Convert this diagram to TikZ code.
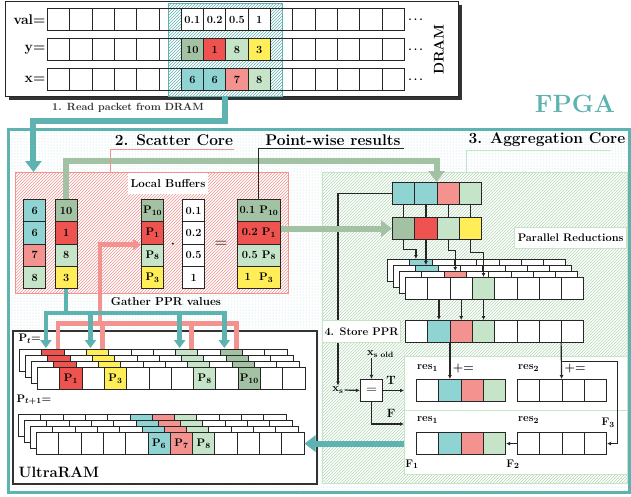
\documentclass[tikz,border=0pt]{standalone}
\usepackage{amsmath}
\usepackage{tikz}
\usetikzlibrary{arrows.meta,shadows,patterns,positioning,calc}

\definecolor{tealc}{RGB}{94,178,176}
\definecolor{cyanc}{RGB}{143,211,211}
\definecolor{redc}{RGB}{239,83,80}
\definecolor{pinkc}{RGB}{244,146,143}
\definecolor{lgreen}{RGB}{198,228,200}
\definecolor{hgreen}{RGB}{180,214,182}
\definecolor{dgreen}{RGB}{163,193,163}
\definecolor{yellowc}{RGB}{255,238,88}

\tikzset{
  cell/.style={draw=black!85, line width=0.9pt, minimum width=22.3pt, minimum height=22.3pt, inner sep=0pt, anchor=north west},
  region/.style={anchor=north west, inner sep=0pt},
  tbar/.style={draw=tealc, line width=6pt, -{Triangle[length=11pt,width=16pt]}},
  gbar/.style={draw=dgreen, line width=6pt, -{Triangle[length=11pt,width=16pt]}},
  tmid/.style={draw=tealc, line width=4.5pt},
  pmid/.style={draw=pinkc, line width=4.5pt},
  blk/.style={draw=black!85, line width=1.2pt},
  blkarrow/.style={blk, -{Latex[length=4pt,width=4pt]}},
  headlabel/.style={font=\fontsize{15.5}{17}\selectfont\bfseries\boldmath},
  boxlabel/.style={fill=white, inner xsep=3pt, minimum height=21pt},
}

% row of cells: name, x, y (top), fill/text list
\newcommand{\cellrow}[4]{%
  \foreach \cf/\ct [count=\i from 0] in {#4}
    \node[cell, fill=\cf] (#1-\i) at ({#2+22.3*\i},#3) {\ct};}
% column of cells: [width], name, x, y (top), fill/text list
\newcommand{\cellcol}[5][22.3pt]{%
  \foreach \cf/\ct [count=\i] in {#5}
    \node[cell, fill=\cf, minimum width=#1] (#2-\i) at (#3,{#4+22.3*(\i-1)}) {\ct};}

\begin{document}
\begin{tikzpicture}[x=1pt, y=-1pt, font=\fontsize{11}{13}\selectfont\bfseries\boldmath]
    \useasboundingbox (0,0) rectangle (631,496);

    % --- DRAM ---
    \node[region, draw=black!85, line width=1pt, fill=white, minimum width=453pt, minimum height=95pt,
          drop shadow={shadow xshift=3pt, shadow yshift=-3pt, fill=black!80, opacity=1}] (dram) at (5,1) {};
    \node[region, draw=tealc, line width=0.9pt, pattern=north east lines, pattern color=tealc,
          minimum width=114pt, minimum height=93pt] (pkt) at (168,3) {};
    \foreach \rw/\y in {val/8,yy/38,xx/68}
        \foreach \i in {0,...,15}
            \node[cell] (\rw-\i) at ({47+22.3*\i},\y) {};
    \foreach \i/\ct in {6/0.1,7/0.2,8/0.5,9/1}
        \node[cell, fill=white] (valv-\i) at (val-\i.north west) {\ct};
    \foreach \i/\cf/\ct in {6/dgreen/10,7/redc/1,8/lgreen/8,9/yellowc/3}
        \node[cell, fill=\cf] (yyv-\i) at (yy-\i.north west) {\ct};
    \foreach \i/\cf/\ct in {6/cyanc/6,7/cyanc/6,8/pinkc/7,9/lgreen/8}
        \node[cell, fill=\cf] (xxv-\i) at (xx-\i.north west) {\ct};
    \foreach \rw/\ct in {val/val=,yy/y=,xx/x=}
        \node[anchor=east, inner sep=1.5pt, font=\fontsize{14}{16}\selectfont\bfseries] (lab-\rw) at (\rw-0.west) {\ct};
    \foreach \rw in {val,yy,xx}
        \node (dots-\rw) at ($(\rw-15.east)+(12,0)$) {$\cdots$};
    \node[rotate=90, font=\fontsize{14}{16}\selectfont\bfseries] (dramlab) at ($(yy-15.east)+(34,0)$) {DRAM};

    % --- FPGA ---
    \node[region, draw=tealc, line width=3pt, pattern=dots, pattern color=tealc!45,
          minimum width=621pt, minimum height=363pt] (fpga) at (7,128) {};
    \node[font=\fontsize{25}{28}\selectfont\bfseries, text=tealc] (fpgalab) at (575,104) {FPGA};
    \node[font=\fontsize{10.5}{12}\selectfont\bfseries, text=black!80] (readlab) at (128,108) {1. Read packet from DRAM};

    % --- core labels ---
    \node[headlabel] (scl) at (174,140) {2. Scatter Core};
    \node[headlabel, inner sep=3pt] (pwr) at (333,140) {Point-wise results};
    \node[headlabel] (acl) at (547,140) {3. Aggregation Core};

    % --- regions ---
    \node[region, draw=pinkc, line width=1pt, preaction={fill=white}, pattern=north east lines, pattern color=pinkc,
          minimum width=273pt, minimum height=121pt] (lb) at (15,172) {};
    \node[region, draw=lgreen, line width=1pt, preaction={fill=white}, pattern=north east lines, pattern color=hgreen,
          minimum width=305pt, minimum height=311pt] (agg) at (322,172) {};
    \node[boxlabel, anchor=north, font=\fontsize{11.5}{13}\selectfont\bfseries] (lblab) at (168,172.5) {Local Buffers};
    \node[boxlabel, draw=lgreen, line width=1pt, anchor=north east] (prlab) at (627,227) {Parallel Reductions};

    % --- local buffers ---
    \cellcol{colx}{23}{199}{cyanc/6, cyanc/6, pinkc/7, lgreen/8}
    \cellcol{coly}{54.5}{199}{dgreen/10, redc/1, lgreen/8, yellowc/3}
    \cellcol{colp}{141}{199}{dgreen/$\mathbf{P}_{10}$, redc/$\mathbf{P}_{1}$, lgreen/$\mathbf{P}_{8}$, yellowc/$\mathbf{P}_{3}$}
    \cellcol{colv}{182}{199}{white/0.1, white/0.2, white/0.5, white/1}
    \cellcol[43pt]{colr}{237}{199}{dgreen/0.1 $\mathbf{P}_{10}$, redc/0.2 $\mathbf{P}_{1}$, lgreen/0.5 $\mathbf{P}_{8}$, yellowc/1\ \ $\mathbf{P}_{3}$}
    \node[font=\fontsize{16}{16}\selectfont] (dotop) at ($(colp-2.south east)!0.5!(colv-2.south west)$) {$\cdot$};
    \node[font=\fontsize{16}{16}\selectfont] (eqop) at ($(colv-2.south east)!0.5!(colr-2.south west)$) {$=$};
    \node[font=\fontsize{11.5}{13}\selectfont\bfseries] (gatherlab) at (166,302) {Gather PPR values};

    % --- aggregation rows ---
    \cellrow{aggA}{392}{182}{cyanc/{},cyanc/{},pinkc/{},lgreen/{}}
    \cellrow{aggB}{392}{217}{dgreen/{},redc/{},lgreen/{},yellowc/{}}
    \foreach \k/\c/\cf in {0/1/cyanc,1/1/cyanc,2/2/pinkc,3/3/lgreen} {
        \foreach \i in {0,...,7}
            \node[cell, fill=white] (pr\k-\i) at ({387+6*\k+22.3*\i},{259+6*\k}) {};
        \node[cell, fill=\cf] (prc\k) at (pr\k-\c.north west) {};
    }
    \cellrow{st}{405}{320}{white/{},cyanc/{},pinkc/{},lgreen/{},white/{},white/{},white/{},white/{}}

    % --- connections in aggregation core ---
    \foreach \i in {0,...,3}
        \draw[blk] (aggA-\i.south) -- (aggB-\i.north);
    \draw[blkarrow] (aggB-0.south) -- ++(0,9) -| ($(prc0.north)+(-5,0)$);
    \draw[blkarrow] (aggB-1.south) -- (aggB-1.south |- prc1.north);
    \draw[blkarrow] (aggB-2.south) -- ++(0,10) -| (prc2.north);
    \draw[blkarrow] (aggB-3.south) -- ++(0,12) -| (prc3.north);
    \foreach \i in {1,2,3}
        \draw[blkarrow] (pr3-\i.south) -- (st-\i.north);

    % --- compare and accumulate ---
    \node[inner sep=1pt] (xs) at (338,390) {$\mathbf{x}_{\mathbf{s}}$};
    \draw[blkarrow] (aggA-0.west) -| (xs.north);
    \node[boxlabel, draw=lgreen, line width=1pt, anchor=north west, inner xsep=2pt, minimum height=22.3pt] (stlab) at (322,320) {4. Store PPR};
    \node[region, draw=lgreen, line width=1pt, fill=white, minimum width=223pt, minimum height=54pt] (tbox) at (404,356) {};
    \node[region, draw=lgreen, line width=1pt, fill=white, minimum width=223pt, minimum height=64pt] (fbox) at (404,410) {};
    \node[draw=black!85, line width=1pt, fill=white, minimum size=22.3pt, inner sep=0pt, font=\fontsize{14}{14}\selectfont] (eqb) at (371.5,390.5) {$=$};
    \node[anchor=west, inner sep=1pt] (xso) at (366,354) {$\mathbf{x}_{\text{s old}}$};
    \draw[blkarrow] (eqb.north |- xso.south) -- (eqb.north);
    \draw[blkarrow] (xs.east) -- (eqb.west);
    \draw[blkarrow] (eqb.east) -- (eqb.east -| tbox.west);
    \draw[blkarrow] (eqb.south) |- ($(fbox.north west)+(0,14)$);
    \node[font=\fontsize{12}{14}\selectfont\bfseries] (tlab) at (391,380) {T};
    \node[font=\fontsize{12}{14}\selectfont\bfseries] (flab) at (391,413) {F};

    \cellrow{rTa}{416}{379}{white/{},cyanc/{},pinkc/{},lgreen/{}}
    \cellrow{rTb}{517}{379}{white/{},white/{},white/{},white/{}}
    \cellrow{rFa}{416}{432}{white/{},cyanc/{},pinkc/{},lgreen/{}}
    \cellrow{rFb}{517}{432}{white/{},white/{},white/{},white/{}}
    \node (resTa) at ($(rTa-0.north)+(0,-11)$) {res$_1$};
    \node (resTb) at ($(rTb-0.north)+(0,-11)$) {res$_2$};
    \node (resFa) at ($(rFa-0.north)+(0,-12)$) {res$_1$};
    \node (resFb) at ($(rFb-0.north)+(0,-12)$) {res$_2$};
    \node[font=\fontsize{12}{14}\selectfont\bfseries] (pleqa) at ($(rTa-1.north)+(13.5,-11)$) {+=};
    \node[font=\fontsize{12}{14}\selectfont\bfseries] (pleqb) at ($(rTb-2.north west)+(13.5,-11)$) {+=};
    \node (fthree) at ($(rFb-3.north east)+(1,-9)$) {F$_3$};
    \node (fone) at ($(rFa-0.south west)+(-4,9)$) {F$_1$};
    \node (ftwo) at ($(rFb-0.south west)+(-4,9)$) {F$_2$};

    \draw[blkarrow] (st-1.south -| rTa-1.north) -- (rTa-1.north);
    \draw[blkarrow] (st-7.south west) -- (rTb-2.north west);
    \draw[blkarrow] ($(st-7.south west)+(0,18)$) -| ($(rFb-3.east)+(10,0)$) -- (rFb-3.east);
    \draw[blkarrow] (rFb-0.west) -- (rFa-3.east);

    % --- UltraRAM ---
    \node[region, draw=black!80, line width=2pt, fill=white, minimum width=304pt, minimum height=153pt] (uram) at (12,330) {};
    \node[anchor=west, font=\fontsize{15}{17}\selectfont\bfseries] (uramlab) at (15,472) {UltraRAM};
    \node[anchor=west] (ptlab) at (15,339) {$\mathbf{P}_t$=};
    \node[anchor=west] (pnlab) at (13,400) {$\mathbf{P}_{t+1}$=};
    % back layers first, text only on the front layer
    \foreach \k in {0,...,3} {
        \foreach \i in {0,...,11}
            \node[cell, fill=white] (pt\k-\i) at ({19+6*\k+22.3*\i},{349+6*\k}) {};
        \foreach \i/\cf in {1/redc,3/yellowc,7/lgreen,9/dgreen}
            \node[cell, fill=\cf] (ptc\k-\i) at (pt\k-\i.north west) {};
    }
    \foreach \i/\ct in {1/$\mathbf{P}_1$,3/$\mathbf{P}_3$,7/$\mathbf{P}_8$,9/$\mathbf{P}_{10}$}
        \node (ptt-\i) at (ptc3-\i) {\ct};
    \foreach \k in {0,...,3} {
        \foreach \i in {0,...,11}
            \node[cell, fill=white] (pn\k-\i) at ({18+6*\k+22.3*\i},{414+6*\k}) {};
        \foreach \i/\cf in {5/cyanc,6/pinkc,7/lgreen}
            \node[cell, fill=\cf] (pnc\k-\i) at (pn\k-\i.north west) {};
    }
    \foreach \i/\ct in {5/$\mathbf{P}_6$,6/$\mathbf{P}_7$,7/$\mathbf{P}_8$}
        \node (pnt-\i) at (pnc3-\i) {\ct};

    % --- gather ---
    \coordinate (pg) at ($(colp-2.south west)+(-41,79)$);
    \coordinate (tg) at ($(coly-4.south)+(0,24)$);
    \draw[pmid, -{Triangle[length=8pt,width=11pt]}] (pg) |- (colp-2.south west);
    \foreach \c in {1,3,7,9}
        \draw[pmid] (pg) -| ($(pt0-\c.north)+(5,0)$);
    \draw[tmid] (coly-4.south) -- (tg);
    \foreach \c in {1,3,7,9}
        \draw[tmid, -{Triangle[length=8pt,width=11pt]}] (tg) -| ($(pt0-\c.north)+(-7,-1)$);

    % --- thick data paths ---
    \coordinate (rdbend) at ($(pkt.south)+(-192,24)$);
    \draw[tbar] (pkt.south) |- (rdbend) -- (rdbend |- lb.north);
    \draw[gbar] (coly-1.north) |- ($(aggA-2.north west)+(0,-21)$) -- (aggA-2.north west);
    \draw[gbar] (colr-2.east |- aggB-0.west) -- (aggB-0.west);
    \draw[tbar] (fbox.west |- rFa-0.west) -- (pn3-11.east);
    \draw[pinkc, line width=1pt] ($(scl.south east)+(-3,0)$) -| ($(lb.north west)+(95,0)$);
    \draw[lgreen, line width=1pt] ($(acl.south east)+(-18,0)$) -| ($(agg.north west)+(144,0)$);
    \draw[black!85, line width=1pt] (colr-1.north) |- (pwr.south east);

\end{tikzpicture}
\end{document}
